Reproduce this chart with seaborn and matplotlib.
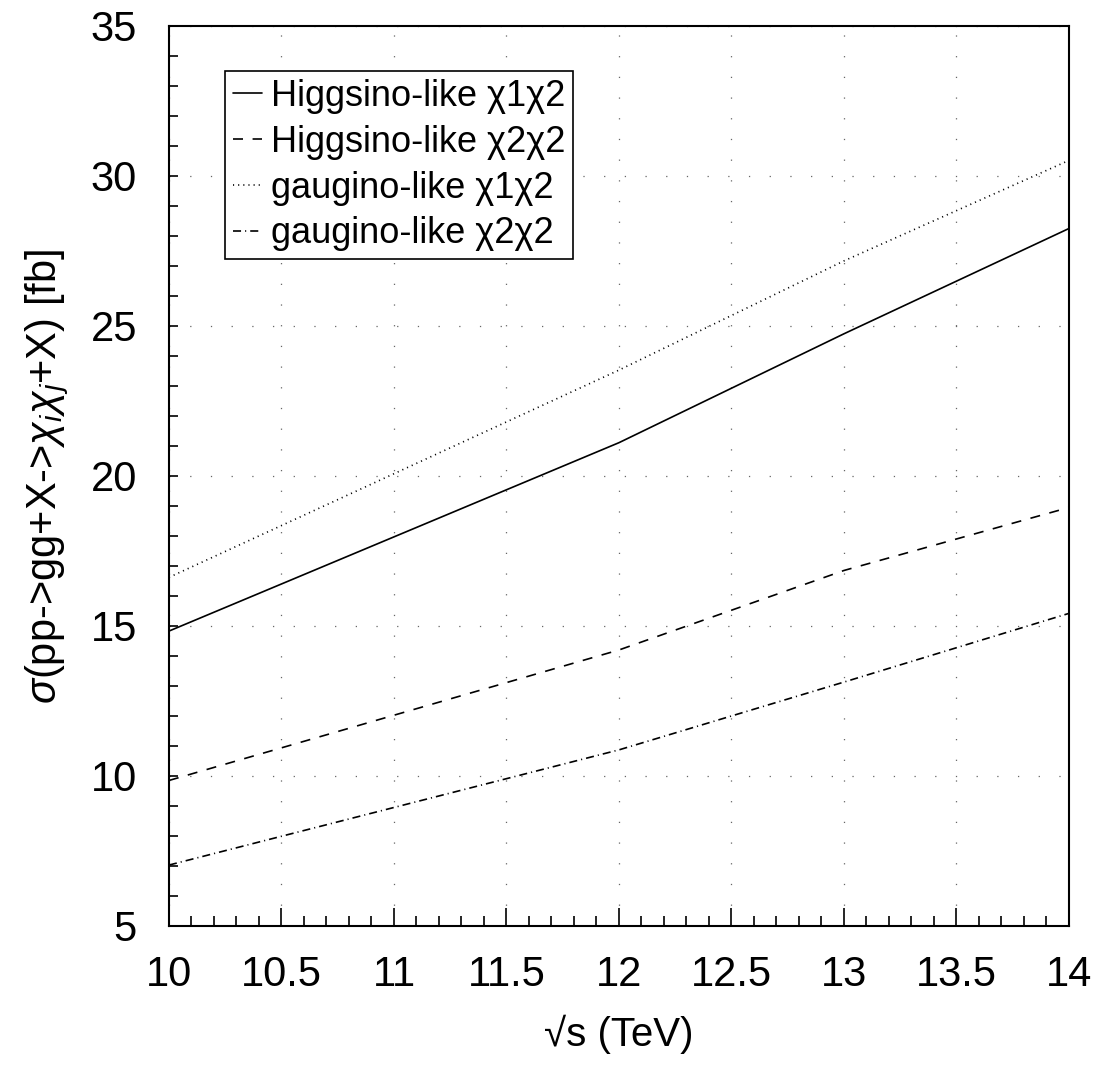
import numpy as np
import pandas as pd
import matplotlib
matplotlib.use('Agg')
import matplotlib.pyplot as plt
import seaborn as sns
from matplotlib.ticker import MultipleLocator, FuncFormatter

# cross sections (fb)
energy = [10, 12, 13, 14]
higgsino_12 = [14.83, 21.11, 24.74, 28.25]
higgsino_22 = [9.85, 14.20, 16.85, 18.95]
gaugino_12 = [16.62, 23.53, 27.17, 30.52]
gaugino_22 = [7.03, 10.87, 13.13, 15.42]

labels = ['Higgsino-like χ1χ2', 'Higgsino-like χ2χ2',
          'gaugino-like χ1χ2', 'gaugino-like χ2χ2']

df = pd.DataFrame({'energy': energy,
                   labels[0]: higgsino_12, labels[1]: higgsino_22,
                   labels[2]: gaugino_12, labels[3]: gaugino_22})
df = df.melt(id_vars='energy', var_name='process', value_name='sigma')

sns.set_style('white')
plt.rcParams['font.family'] = ['Liberation Sans', 'DejaVu Sans']
plt.rcParams['mathtext.fontset'] = 'custom'
plt.rcParams['mathtext.rm'] = 'Liberation Sans'
plt.rcParams['mathtext.it'] = 'Liberation Sans:italic'
plt.rcParams['lines.scale_dashes'] = False
plt.rcParams['text.color'] = 'black'
plt.rcParams['axes.labelcolor'] = 'black'
plt.rcParams['xtick.color'] = 'black'
plt.rcParams['ytick.color'] = 'black'

fig = plt.figure(figsize=(11, 10.83), dpi=100)
ax = fig.add_axes([0.1536, 0.145, 0.8182, 0.831])

dashes = {labels[0]: '',
          labels[1]: (7.2, 6.9),
          labels[2]: (0.8, 2.9),
          labels[3]: (5.8, 2.9, 0.8, 2.9)}
sns.lineplot(data=df, x='energy', y='sigma', style='process', dashes=dashes,
             color='black', linewidth=1.2, ax=ax, style_order=labels)

ax.set_xlim(10, 14)
ax.set_ylim(5, 35)
ax.xaxis.set_major_locator(MultipleLocator(0.5))
ax.xaxis.set_minor_locator(MultipleLocator(0.1))
ax.yaxis.set_major_locator(MultipleLocator(5))
ax.yaxis.set_minor_locator(MultipleLocator(1))
ax.xaxis.set_major_formatter(FuncFormatter(lambda v, p: '%g' % v))
ax.yaxis.set_major_formatter(FuncFormatter(lambda v, p: '%g' % v))

ax.tick_params(axis='x', which='major', direction='in', length=13, width=1.2,
               labelsize=30, pad=21, bottom=True)
ax.tick_params(axis='x', which='minor', direction='in', length=7, width=1.2, bottom=True)
ax.tick_params(axis='y', which='both', direction='in', length=6.5, width=1.2,
               labelsize=30, pad=23, left=True)

ax.grid(True, which='major', color='#666666', linewidth=0.9, linestyle=(0, (0.9, 14)))
for s in ax.spines.values():
    s.set_linewidth(1.5)
    s.set_color('black')

ax.set_xlabel('√s (TeV)', fontsize=29, labelpad=14)
ax.set_ylabel(r'$\sigma$(pp->gg+X->$\chi_i\chi_j$+X) [fb]', fontsize=30, labelpad=14)

leg = ax.legend(loc='upper left', bbox_to_anchor=(0.062, 0.95), borderaxespad=0,
                fontsize=26, handlelength=0.8, handletextpad=0.25, labelspacing=0.3,
                borderpad=0.22, frameon=True, fancybox=False, framealpha=1,
                edgecolor='black')
leg.get_frame().set_linewidth(1.2)

fig.savefig('out.png', dpi=100)
